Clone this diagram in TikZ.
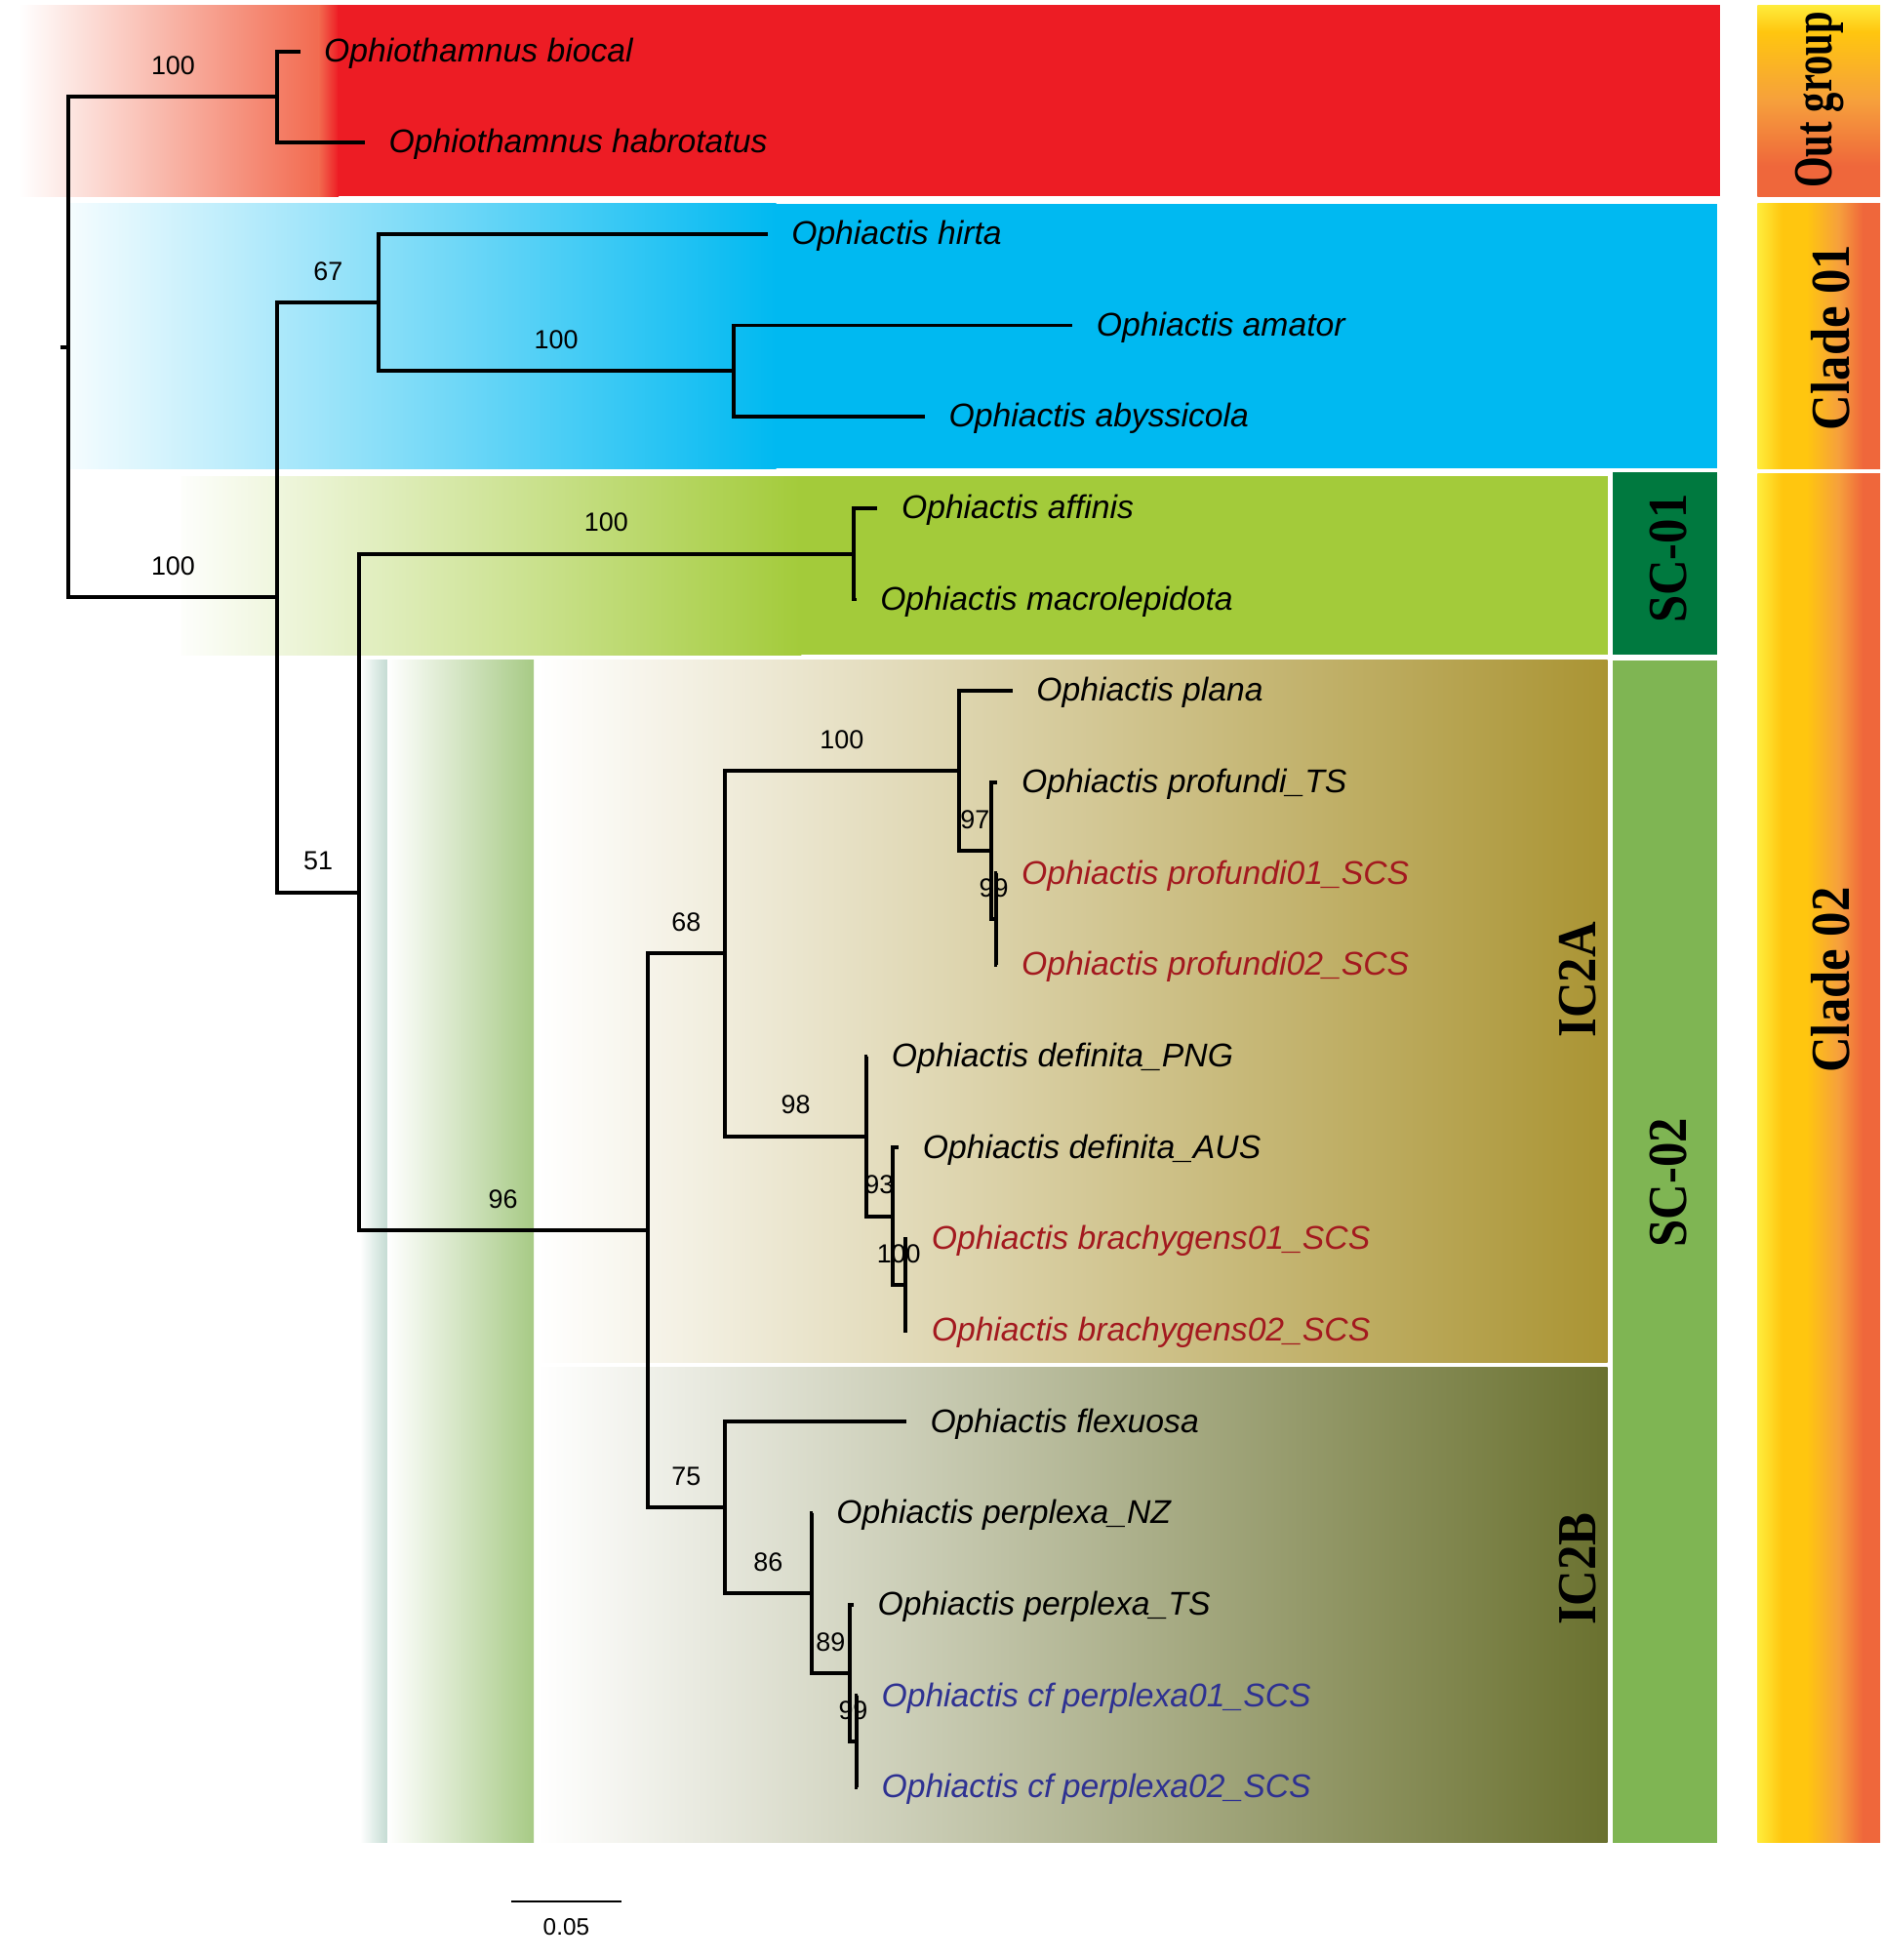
\documentclass[tikz,border=0pt]{standalone}
\usepackage{fontspec}
\usepackage{graphicx}
\usetikzlibrary{positioning,calc}
\newfontfamily\taxfont{Liberation Sans}
\newfontfamily\cladefont{Liberation Serif}

\definecolor{ogred}{HTML}{ED1C24}
\definecolor{ogsalmon}{HTML}{F26A4F}
\definecolor{cloneblue}{HTML}{00B9F1}
\definecolor{scgreen}{HTML}{A3CB3A}
\definecolor{scdark}{HTML}{00793F}
\definecolor{sctwo}{HTML}{7FB553}
\definecolor{icaolive}{HTML}{AA9433}
\definecolor{icbolive}{HTML}{6A712F}
\definecolor{stripteal}{HTML}{C3DBD2}
\definecolor{stripgreen}{HTML}{A7CA85}
\definecolor{cladeyellow}{HTML}{FFEC3C}
\definecolor{cladegold}{HTML}{FFC60F}
\definecolor{cladeorange}{HTML}{F6A03C}
\definecolor{cladered}{HTML}{EF673B}
\definecolor{scsred}{HTML}{A3191F}
\definecolor{scsblue}{HTML}{2E3192}

\pgfdeclarehorizontalshading{cladeshade}{100bp}{color(0bp)=(cladeyellow); color(25bp)=(cladeyellow); color(35bp)=(cladegold); color(45bp)=(cladegold); color(58bp)=(cladeorange); color(68bp)=(cladered); color(100bp)=(cladered)}
\pgfdeclareverticalshading{outshade}{100bp}{color(0bp)=(cladered); color(25bp)=(cladered); color(33bp)=(cladered); color(50bp)=(cladeorange); color(68bp)=(cladegold); color(75bp)=(cladeyellow); color(100bp)=(cladeyellow)}

\newcommand{\squeeze}[2]{\scalebox{#1}[1]{#2}}

\begin{document}
\begin{tikzpicture}[
  x=1pt, y=-1pt,
  branch/.style={line width=3.1pt},
  taxon/.style={inner sep=0pt, yshift=-1.5pt, font=\taxfont\itshape\fontsize{26.3}{30}\selectfont},
  boot/.style={inner sep=0pt, above=16pt, font=\taxfont\fontsize{21}{24}\selectfont},
  scalelbl/.style={inner sep=0pt, font=\taxfont\fontsize{19}{22}\selectfont},
  cladelbl/.style={rotate=90, inner sep=0pt, font=\cladefont\bfseries\fontsize{44}{44}\selectfont}
]
\useasboundingbox (0,0) rectangle (1506,1568);

% Coloured bands behind the tree
\shade[left color=white, right color=ogsalmon] (15,4) rectangle (256,157);
\shade[left color=ogsalmon, right color=ogred] (255,4) rectangle (271,157);
\fill[ogred] (270,4) rectangle (1376,157);

\shade[left color=cloneblue!4, right color=cloneblue] (55,163) rectangle (621,375);
\fill[cloneblue] (620,163) rectangle (1374,375);

\shade[left color=scgreen!2, right color=scgreen] (145,381) rectangle (641,524);
\fill[scgreen] (640,381) rectangle (1286,524);

\shade[left color=white, right color=stripteal] (288,528) rectangle (310,1474);
\shade[left color=white, right color=stripgreen] (310,528) rectangle (427,1474);
\shade[left color=white, right color=icaolive] (430,528) rectangle (1286,1090);
\shade[left color=white, right color=icbolive] (430,1094) rectangle (1286,1474);

\fill[scdark] (1290,378) rectangle (1374,524);
\fill[sctwo] (1290,528) rectangle (1374,1474);

\shade[shading=outshade] (1406,4) rectangle (1504,157);
\shade[shading=cladeshade] (1406,163) rectangle (1504,375);
\shade[shading=cladeshade] (1406,379) rectangle (1504,1474);

% Internal nodes
\coordinate (r)    at (55,277.7);
\coordinate (rt)   at (48,277.7);
\coordinate (og)   at (222,77.5);
\coordinate (ig)   at (222,477.9);
\coordinate (c1)   at (303,242);
\coordinate (n1)   at (587,296.9);
\coordinate (c2)   at (287,713.8);
\coordinate (s1)   at (683,443);
\coordinate (s2)   at (518,984.5);
\coordinate (a)    at (580,762.9);
\coordinate (a1)   at (767,616.7);
\coordinate (a11)  at (793,680.6);
\coordinate (a111) at (797,735.5);
\coordinate (a2)   at (693,909);
\coordinate (a21)  at (714,973);
\coordinate (a211) at (724,1027.9);
\coordinate (b)    at (580,1206);
\coordinate (b1)   at (649,1274.6);
\coordinate (b11)  at (680,1338.5);
\coordinate (b111) at (685,1393.4);

% Tips
\coordinate (t00) at (240,41);
\coordinate (t01) at (292,114.1);
\coordinate (t02) at (614,187.2);
\coordinate (t03) at (858,260.3);
\coordinate (t04) at (740,333.4);
\coordinate (t05) at (702,406.5);
\coordinate (t06) at (685,479.6);
\coordinate (t07) at (810,552.7);
\coordinate (t08) at (798,625.8);
\coordinate (t09) at (798,698.9);
\coordinate (t10) at (798,772);
\coordinate (t11) at (694,845.1);
\coordinate (t12) at (719,918.2);
\coordinate (t13) at (726,991.3);
\coordinate (t14) at (726,1064.4);
\coordinate (t15) at (725,1137.5);
\coordinate (t16) at (650,1210.6);
\coordinate (t17) at (683,1283.7);
\coordinate (t18) at (686,1356.8);
\coordinate (t19) at (686,1429.9);

% Branches
\draw[branch] (rt) -- (r);
\draw[branch] (r) |- node[boot, pos=0.75] {100} (og);
\draw[branch] (r) |- node[boot, pos=0.75] {100} (ig);
\draw[branch] (og) |- (t00);
\draw[branch] (og) |- (t01);
\draw[branch] (ig) |- node[boot, pos=0.75] {67} (c1);
\draw[branch] (ig) |- node[boot, pos=0.75] {51} (c2);
\draw[branch] (c1) |- (t02);
\draw[branch] (c1) |- node[boot, pos=0.75] {100} (n1);
\draw[branch] (n1) |- (t03);
\draw[branch] (n1) |- (t04);
\draw[branch] (c2) |- node[boot, pos=0.75] {100} (s1);
\draw[branch] (c2) |- node[boot, pos=0.75] {96} (s2);
\draw[branch] (s1) |- (t05);
\draw[branch] (s1) |- (t06);
\draw[branch] (s2) |- node[boot, pos=0.75] {68} (a);
\draw[branch] (s2) |- node[boot, pos=0.75] {75} (b);
\draw[branch] (a) |- node[boot, pos=0.75] {100} (a1);
\draw[branch] (a) |- node[boot, pos=0.75] {98} (a2);
\draw[branch] (a1) |- (t07);
\draw[branch] (a1) |- node[boot, pos=0.75] {97} (a11);
\draw[branch] (a11) |- (t08);
\draw[branch] (a11) |- node[boot, pos=0.75] {99} (a111);
\draw[branch] (a111) |- (t09);
\draw[branch] (a111) |- (t10);
\draw[branch] (a2) |- (t11);
\draw[branch] (a2) |- node[boot, pos=0.75] {93} (a21);
\draw[branch] (a21) |- (t12);
\draw[branch] (a21) |- node[boot, pos=0.75] {100} (a211);
\draw[branch] (a211) |- (t13);
\draw[branch] (a211) |- (t14);
\draw[branch] (b) |- (t15);
\draw[branch] (b) |- node[boot, pos=0.75] {86} (b1);
\draw[branch] (b1) |- (t16);
\draw[branch] (b1) |- node[boot, pos=0.75] {89} (b11);
\draw[branch] (b11) |- (t17);
\draw[branch] (b11) |- node[boot, pos=0.75] {99} (b111);
\draw[branch] (b111) |- (t18);
\draw[branch] (b111) |- (t19);

% Taxon labels
\node[taxon, right=19pt of t00] (l00) {Ophiothamnus biocal};
\node[taxon, right=19pt of t01] (l01) {Ophiothamnus habrotatus};
\node[taxon, right=19pt of t02] (l02) {Ophiactis hirta};
\node[taxon, right=19pt of t03] (l03) {Ophiactis amator};
\node[taxon, right=19pt of t04] (l04) {Ophiactis abyssicola};
\node[taxon, right=19pt of t05] (l05) {Ophiactis affinis};
\node[taxon, right=19pt of t06] (l06) {Ophiactis macrolepidota};
\node[taxon, right=19pt of t07] (l07) {Ophiactis plana};
\node[taxon, right=19pt of t08] (l08) {Ophiactis profundi\_TS};
\node[taxon, right=19pt of t09, scsred] (l09) {Ophiactis profundi01\_SCS};
\node[taxon, right=19pt of t10, scsred] (l10) {Ophiactis profundi02\_SCS};
\node[taxon, right=19pt of t11] (l11) {Ophiactis definita\_PNG};
\node[taxon, right=19pt of t12] (l12) {Ophiactis definita\_AUS};
\node[taxon, right=19pt of t13, scsred] (l13) {Ophiactis brachygens01\_SCS};
\node[taxon, right=19pt of t14, scsred] (l14) {Ophiactis brachygens02\_SCS};
\node[taxon, right=19pt of t15] (l15) {Ophiactis flexuosa};
\node[taxon, right=19pt of t16] (l16) {Ophiactis perplexa\_NZ};
\node[taxon, right=19pt of t17] (l17) {Ophiactis perplexa\_TS};
\node[taxon, right=19pt of t18, scsblue] (l18) {Ophiactis cf perplexa01\_SCS};
\node[taxon, right=19pt of t19, scsblue] (l19) {Ophiactis cf perplexa02\_SCS};

% Group labels
\node[cladelbl] (gout) at (1456,80) {\squeeze{0.72}{Out group}};
\node[cladelbl] (gc1) at (1464,270) {\squeeze{0.9}{Clade 01}};
\node[cladelbl] (gc2) at (1464,784) {\squeeze{0.9}{Clade 02}};
\node[cladelbl] (gsc1) at (1335,447) {\squeeze{0.9}{SC-01}};
\node[cladelbl] (gsc2) at (1335,946) {\squeeze{0.9}{SC-02}};
\node[cladelbl] (gica) at (1262,784) {\squeeze{0.9}{IC2A}};
\node[cladelbl] (gicb) at (1262,1255) {\squeeze{0.9}{IC2B}};

% Scale bar
\coordinate (sbL) at (409,1521);
\coordinate (sbR) at (497,1521);
\draw[line width=1.8pt] (sbL) -- (sbR);
\node[scalelbl, below=14pt of $(sbL)!0.5!(sbR)$] (sbtxt) {0.05};

\end{tikzpicture}
\end{document}
